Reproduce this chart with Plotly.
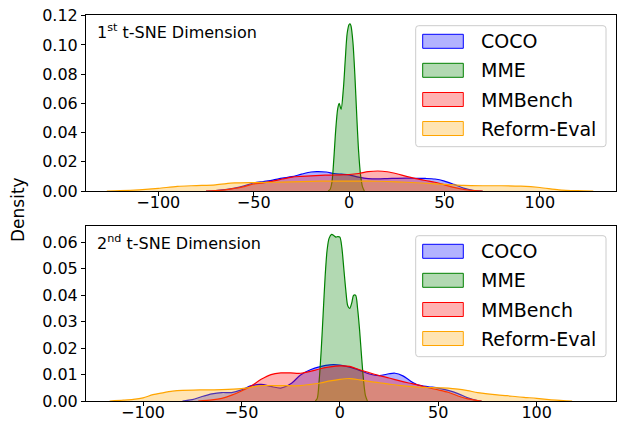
import plotly.graph_objects as go

# ---------------- data ----------------
series_names = ["COCO", "MME", "MMBench", "Reform-Eval"]
series_colors = ["#0000FF", "#008000", "#FF0000", "#FFA500"]
series_fills = ["rgba(0,0,255,0.3)", "rgba(0,128,0,0.3)", "rgba(255,0,0,0.3)", "rgba(255,165,0,0.3)"]

# 1st t-SNE dimension
top_coco_x = [-75, -70, -65, -60, -55, -50, -45, -40, -35, -30, -25, -20, -17, -12, -8, -4, 0, 5, 10, 15, 20, 25, 30, 35, 40, 45, 50, 55, 60, 65, 70]
top_coco_y = [0, 0.0003, 0.001, 0.002, 0.0035, 0.0055, 0.0065, 0.0075, 0.0088, 0.0098, 0.0115, 0.013, 0.0132, 0.013, 0.012, 0.0115, 0.011, 0.0095, 0.0085, 0.0083, 0.0085, 0.0087, 0.0088, 0.0087, 0.0086, 0.0082, 0.0068, 0.0045, 0.002, 0.0005, 0]

top_mme_x = [-11, -10, -9, -8, -7, -6, -5.2, -4.2, -3, -2, -1, 0, 0.5, 1, 2, 3, 4, 5, 6, 7, 8]
top_mme_y = [0, 0.001, 0.006, 0.022, 0.042, 0.056, 0.060, 0.056, 0.070, 0.090, 0.108, 0.114, 0.1145, 0.113, 0.102, 0.080, 0.052, 0.027, 0.011, 0.003, 0]

top_mmb_x = [-75, -70, -65, -60, -55, -50, -45, -40, -35, -30, -25, -20, -15, -10, -5, 0, 5, 10, 15, 20, 25, 30, 35, 40, 45, 50, 55, 60, 65, 70]
top_mmb_y = [0, 0.0003, 0.0008, 0.0018, 0.003, 0.0048, 0.0055, 0.0068, 0.0082, 0.0095, 0.0100, 0.0104, 0.0107, 0.0109, 0.011, 0.0113, 0.012, 0.0132, 0.0137, 0.0132, 0.0118, 0.0100, 0.0085, 0.0072, 0.006, 0.0042, 0.0025, 0.0011, 0.0003, 0]

top_ref_x = [-127, -120, -110, -100, -90, -80, -70, -60, -50, -40, -30, -20, -10, 0, 10, 20, 30, 40, 50, 60, 70, 80, 90, 100, 110, 120, 128]
top_ref_y = [0, 0.0002, 0.0008, 0.0018, 0.0032, 0.0037, 0.0042, 0.0055, 0.0058, 0.0060, 0.0063, 0.0066, 0.0068, 0.0068, 0.0068, 0.0065, 0.006, 0.0053, 0.0045, 0.0038, 0.0036, 0.0036, 0.0033, 0.0024, 0.0008, 0.0002, 0]

# 2nd t-SNE dimension
bot_coco_x = [-80, -75, -70, -65, -60, -55, -50, -45, -40, -35, -30, -25, -20, -15, -10, -5, 0, 5, 10, 15, 20, 25, 28, 32, 36, 40, 45, 50, 55, 60, 65, 70, 72]
bot_coco_y = [0, 0.0005, 0.0017, 0.0027, 0.0032, 0.0032, 0.0042, 0.0058, 0.0063, 0.0055, 0.0049, 0.0065, 0.0098, 0.0118, 0.013, 0.0137, 0.0136, 0.0128, 0.0116, 0.0102, 0.0096, 0.0103, 0.0105, 0.0095, 0.0075, 0.006, 0.0054, 0.0049, 0.004, 0.0028, 0.0012, 0.0002, 0]

bot_mme_x = [-12.5, -11.5, -10.5, -9.5, -8.5, -7.5, -6.5, -5.5, -4.2, -3, -2, -1, 0, 1, 2, 3, 4, 5, 6, 7, 8, 9, 10, 11, 12, 13, 14]
bot_mme_y = [0, 0.001, 0.008, 0.019, 0.033, 0.047, 0.057, 0.0615, 0.063, 0.0625, 0.062, 0.0622, 0.062, 0.058, 0.050, 0.042, 0.036, 0.035, 0.037, 0.040, 0.040, 0.035, 0.027, 0.017, 0.008, 0.002, 0]

bot_mmb_x = [-72, -65, -60, -55, -50, -45, -40, -35, -30, -25, -20, -15, -10, -5, 0, 5, 10, 15, 20, 25, 30, 35, 40, 45, 50, 55, 60, 65, 70, 72]
bot_mmb_y = [0, 0.0004, 0.001, 0.0022, 0.0038, 0.0057, 0.0082, 0.0100, 0.0106, 0.0106, 0.0105, 0.0112, 0.0122, 0.0129, 0.0133, 0.0131, 0.0118, 0.0107, 0.0096, 0.0087, 0.0077, 0.0068, 0.006, 0.005, 0.0042, 0.0033, 0.0019, 0.0008, 0.0002, 0]

bot_ref_x = [-117, -110, -105, -100, -95, -90, -85, -80, -70, -60, -50, -45, -40, -30, -20, -15, -10, -5, 0, 5, 10, 15, 20, 25, 30, 35, 40, 45, 50, 55, 60, 65, 70, 75, 80, 85, 90, 95, 100, 105, 110, 115, 118]
bot_ref_y = [0, 0.0003, 0.0006, 0.0012, 0.0024, 0.0031, 0.0037, 0.004, 0.0042, 0.0043, 0.0047, 0.0052, 0.0058, 0.0058, 0.0058, 0.0063, 0.0068, 0.0076, 0.0082, 0.0085, 0.0080, 0.0074, 0.0069, 0.0064, 0.0059, 0.0055, 0.0052, 0.0051, 0.005, 0.0049, 0.0045, 0.0039, 0.0032, 0.0027, 0.0023, 0.002, 0.0016, 0.0013, 0.001, 0.0006, 0.0003, 0.0001, 0]

x_tick_vals = [-100, -50, 0, 50, 100]
top_y_ticks = [0.00, 0.02, 0.04, 0.06, 0.08, 0.10, 0.12]
bot_y_ticks = [0.00, 0.01, 0.02, 0.03, 0.04, 0.05, 0.06]
panel_titles = ["1<sup>st</sup> t-SNE Dimension", "2<sup>nd</sup> t-SNE Dimension"]
y_label = "Density"

# ---------------- figure ----------------
FONT = "DejaVu Sans"
W, H = 618, 421
L, R, T, B = 86, 2, 15, 20
plot_w = W - L - R
plot_h = H - T - B

def py(pix):  # pixel row -> paper y
    return (H - B - pix) / plot_h

def px(pix):  # pixel column -> paper x
    return (pix - L) / plot_w

fig = go.Figure()

top_data = [(top_coco_x, top_coco_y), (top_mme_x, top_mme_y), (top_mmb_x, top_mmb_y), (top_ref_x, top_ref_y)]
bot_data = [(bot_coco_x, bot_coco_y), (bot_mme_x, bot_mme_y), (bot_mmb_x, bot_mmb_y), (bot_ref_x, bot_ref_y)]

for (xs, ys), name, c, f in zip(top_data, series_names, series_colors, series_fills):
    fig.add_trace(go.Scatter(x=xs, y=ys, name=name, mode="lines", fill="tozeroy",
                             line=dict(color=c, width=1.2, shape="spline", smoothing=0.8),
                             fillcolor=f, xaxis="x", yaxis="y", showlegend=False))
for (xs, ys), name, c, f in zip(bot_data, series_names, series_colors, series_fills):
    fig.add_trace(go.Scatter(x=xs, y=ys, name=name, mode="lines", fill="tozeroy",
                             line=dict(color=c, width=1.2, shape="spline", smoothing=0.8),
                             fillcolor=f, xaxis="x2", yaxis="y2", showlegend=False))

axis_common = dict(showline=True, linecolor="black", linewidth=1, mirror=True,
                   ticks="outside", ticklen=4, tickcolor="black", showgrid=False,
                   zeroline=False, automargin=False, ticklabeloverflow="allow",
                   tickfont=dict(family=FONT, size=16, color="black"))

top_dom = [py(191), 1.0]
bot_dom = [0.0, py(225.7)]

fig.update_layout(
    width=W, height=H,
    margin=dict(l=L, r=R, t=T, b=B),
    paper_bgcolor="white", plot_bgcolor="white",
    showlegend=False,
    xaxis=dict(domain=[0, 1], anchor="y", range=[-137.9, 139.9], tickvals=x_tick_vals,
               ticklabelstandoff=-7, **axis_common),
    yaxis=dict(domain=top_dom, anchor="x", range=[0, 0.1205], tickvals=top_y_ticks, tickformat=".2f", **axis_common),
    xaxis2=dict(domain=[0, 1], anchor="y2", range=[-129, 140.3], tickvals=x_tick_vals,
                ticklabelstandoff=-7, **axis_common),
    yaxis2=dict(domain=bot_dom, anchor="x2", range=[0, 0.0663], tickvals=bot_y_ticks, tickformat=".2f", **axis_common),
)

# ---- legends drawn as framed boxes with patches and labels (matplotlib style) ----
def rounded_box(x0, y0, x1, y1, r):
    X = lambda v: px(v)
    Y = lambda v: py(v)
    return (f"M {X(x0+r)},{Y(y0)} L {X(x1-r)},{Y(y0)} Q {X(x1)},{Y(y0)} {X(x1)},{Y(y0+r)} "
            f"L {X(x1)},{Y(y1-r)} Q {X(x1)},{Y(y1)} {X(x1-r)},{Y(y1)} "
            f"L {X(x0+r)},{Y(y1)} Q {X(x0)},{Y(y1)} {X(x0)},{Y(y1-r)} "
            f"L {X(x0)},{Y(y0+r)} Q {X(x0)},{Y(y0)} {X(x0+r)},{Y(y0)} Z")

for off in (0, 210):
    fig.add_shape(type="path", xref="paper", yref="paper",
                  path=rounded_box(415.7, 25.7 + off, 606, 146.7 + off, 3),
                  fillcolor="rgba(255,255,255,0.8)", line=dict(color="#cccccc", width=1))
    row_centers = [41.3, 70.3, 99.5, 128.5]
    for name, c, f, yc in zip(series_names, series_colors, series_fills, row_centers):
        yc = yc + off
        fig.add_shape(type="rect", xref="paper", yref="paper",
                      x0=px(422.7), x1=px(463.3), y0=py(yc - 7), y1=py(yc + 7),
                      fillcolor=f, line=dict(color=c, width=1))
        fig.add_annotation(text=name, xref="paper", yref="paper", x=px(478.5), y=py(yc),
                           xanchor="left", yanchor="middle", showarrow=False,
                           font=dict(family=FONT, size=19, color="black"))

fig.add_annotation(text=panel_titles[0], xref="paper", yref="paper", x=px(95), y=py(31.7),
                   xanchor="left", yanchor="middle", showarrow=False,
                   font=dict(family=FONT, size=16, color="black"))
fig.add_annotation(text=panel_titles[1], xref="paper", yref="paper", x=px(95), y=py(242.3),
                   xanchor="left", yanchor="middle", showarrow=False,
                   font=dict(family=FONT, size=16, color="black"))
fig.add_annotation(text=y_label, xref="paper", yref="paper", x=px(18), y=py(210),
                   xanchor="center", yanchor="middle", showarrow=False, textangle=-90,
                   font=dict(family=FONT, size=17, color="black"))

fig.write_html("out.html", config={"displayModeBar": False},
               post_script="document.body.style.margin='0px';")
